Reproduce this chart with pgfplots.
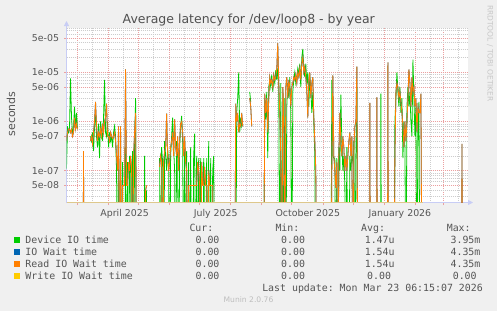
\documentclass[border=0pt]{standalone}
\usepackage{pgfplots}
\pgfplotsset{compat=1.18}
\usepackage{pgfplotstable}
\usepackage{fontspec}
\setmainfont{DejaVu Sans}
\setmonofont{DejaVu Sans Mono}
\usetikzlibrary{arrows.meta}

\definecolor{bgc}{HTML}{F0F0F0}
\definecolor{devio}{HTML}{00CC00}
\definecolor{iowait}{HTML}{0066B3}
\definecolor{readio}{HTML}{FF8000}
\definecolor{writeio}{HTML}{FFCC00}
\definecolor{writeline}{RGB}{222,200,140}
\definecolor{axblue}{RGB}{200,205,245}
\definecolor{mgrid}{RGB}{235,160,160}
\definecolor{mingrid}{RGB}{205,205,205}
\definecolor{txtc}{HTML}{555555}
\definecolor{titc}{HTML}{505050}

% day (days since 1 Jan 2025), Device IO time, Read IO wait time (seconds)
\pgfplotstableread{
day dev rd
48 1.1e-7 4e-7
49 8e-7 6e-7
50 6e-7 7e-7
51 7e-7 7e-7
52 7.5e-6 6e-7
53 1.2e-6 7e-7
54 6e-7 5e-7
55 7e-7 6e-7
56 2e-6 1.2e-6
57 7e-7 7e-7
58 1.5e-6 9e-7
59 7e-7 7e-7
60 nan nan
64.5 nan 1e-10
65 nan 2.5e-7
65.5 nan 1e-10
66 nan nan
72 5e-7 4e-7
73 4e-7 5e-7
74 6e-7 3.5e-7
75 2.5e-7 6e-7
76 8e-7 1e-6
77 1.5e-6 2.5e-6
78 5e-7 8e-7
79 3e-7 4e-7
80 9e-7 6e-7
81 1.8e-7 5e-7
82 1e-6 7e-7
83 6e-7 5e-7
84 4e-7 9e-7
85 1.2e-6 6e-7
86 7e-6 1e-6
87 6e-7 1.2e-6
88 5e-7 2.3e-6
89 1e-6 5e-7
90 3e-7 5e-7
91 6e-7 4e-7
92 4e-7 6e-7
93 5e-7 5e-7
94 3e-7 4.5e-7
95 6e-7 5e-7
96 8e-7 6e-7
97 5e-7 4e-7
98 1e-7 2e-7
99 1e-10 1e-7
100 2e-7 8e-7
101 1e-10 1e-10
102 2e-7 8e-7
103 1e-10 1e-10
104 1.5e-7 5e-8
105 1e-10 5e-8
106 1e-10 5e-8
107 3e-7 1.15e-5
108 1e-10 5e-8
109 1.5e-7 5e-8
110 1e-10 1.5e-7
111 2e-7 1e-7
112 1.5e-7 2e-7
113 1e-10 1.2e-7
114 2.5e-7 1e-10
115 1e-10 2e-7
116 3e-7 6e-7
117 3e-6 1.5e-6
118 1e-10 1e-10
119 nan nan
125.5 1e-10 nan
126 2e-7 1e-10
127 1e-10 4e-8
128 4e-8 5e-8
129 nan nan
141 1.8e-7 1.2e-7
142 1e-10 2e-7
143 3e-7 1.5e-7
144 1.5e-7 1e-10
145 1e-10 1.5e-7
146 4e-7 2.5e-7
147 2e-7 3e-7
148 1e-7 1.45e-6
149 3e-7 2e-7
150 1.5e-7 1e-7
151 1e-10 1.5e-7
152 2e-7 3e-7
153 5e-7 4e-7
154 1.2e-6 6e-7
155 3e-7 2e-7
156 1e-7 1.1e-6
157 1e-10 3e-7
158 4e-7 2e-7
159 2e-7 5e-7
160 1e-10 1e-7
161 3e-7 4e-7
162 8e-7 9e-7
163 1.3e-6 1e-6
164 4e-7 6e-7
165 1e-10 2e-7
166 3e-7 5e-7
167 1e-10 1.5e-7
168 2.5e-7 1e-7
169 1e-10 1e-10
170 1.5e-7 5e-8
171 1e-10 5e-8
172 3e-7 5e-8
173 1e-10 5e-8
174 1e-10 5e-8
175 2e-7 5e-8
176 5.7e-7 5e-8
177 1e-10 5e-8
178 2e-7 5e-8
179 1e-10 1.5e-7
180 1.8e-7 1e-7
181 1e-10 5e-8
182 1.8e-7 1e-10
183 1e-10 1.5e-7
184 1e-10 5e-8
185 1.8e-7 5e-8
186 5e-8 1.2e-7
187 1e-10 5e-8
188 1.8e-7 5e-8
189 1e-10 1e-10
190 4e-7 1e-7
191 1e-10 5e-8
192 1.8e-7 5e-8
193 1e-10 5e-8
194 1e-7 5e-8
195 2e-7 1e-10
196 1e-10 1e-10
197 nan nan
216 1e-10 1e-10
217 1e-10 2.3e-6
218 1.5e-6 1e-6
219 3e-6 1.5e-6
220 1e-5 6e-7
221 6e-7 9e-7
222 1.2e-6 8e-7
223 8e-7 1.5e-6
224 1e-6 8e-7
225 nan nan
231 4e-6 3e-6
232 2.5e-6 2e-6
233 nan 8e-7
234 nan nan
245 1e-10 1e-10
246 3e-6 3.7e-6
247 1.1e-6 1.5e-6
248 4e-6 3e-6
249 1.8e-7 6e-7
250 5e-6 3e-6
251 7e-6 8e-6
252 5e-6 6e-6
253 9e-6 7e-6
254 4e-6 5e-6
255 8e-6 9e-6
256 6e-6 7e-6
257 1.1e-5 8e-6
258 7e-6 1.2e-5
259 1.2e-5 3.9e-5
260 5e-6 6e-6
261 1e-10 1.5e-6
262 6e-6 2e-7
263 1e-10 1e-10
264 1e-6 5e-6
265 1e-10 2e-6
266 3e-6 1e-10
267 1e-10 5e-6
268 2e-6 8e-6
269 6e-6 3e-6
270 3e-6 7e-6
271 8e-6 5e-6
272 1.5e-6 2e-6
273 1e-10 5e-6
274 4e-6 6e-6
275 7e-6 8e-6
276 1e-5 7e-6
277 6e-6 9e-6
278 8e-6 6e-6
279 1.2e-5 1e-5
280 9e-6 8e-6
281 1.5e-5 1.2e-5
282 5e-6 7e-6
283 2e-5 1.5e-5
284 3e-5 2e-5
285 1.2e-5 1e-5
286 8e-6 1.3e-5
287 1.5e-5 8e-6
288 6e-6 4e-6
289 1e-5 1.2e-6
290 2e-6 7e-6
291 8e-6 1e-5
292 5e-6 3e-6
293 1.5e-6 6e-6
294 4e-6 8e-6
295 1e-6 1.2e-6
296 2e-7 4e-7
297 1e-10 1e-7
298 1e-10 1e-10
299 nan nan
312 1e-10 1e-10
313 7e-6 1e-7
314 2e-7 8.7e-6
315 1.8e-7 2e-7
316 1.8e-7 1e-7
317 1e-10 4.5e-8
318 1.8e-7 1.5e-7
319 1e-10 1e-10
320 3e-7 2e-7
321 1e-7 1.5e-6
322 3.5e-6 4e-7
323 4e-7 2e-7
324 1e-7 5e-7
325 2e-7 3e-7
326 5e-8 1e-7
327 1e-10 2e-7
328 3e-7 1e-7
329 1e-10 2e-7
330 1e-10 4e-7
331 2e-7 6e-7
332 1e-7 2e-7
333 2e-7 5e-7
334 1.5e-7 1e-10
335 4e-7 3e-7
336 1e-10 8e-7
337 2e-7 1e-6
338 5e-6 1.3e-5
339 1e-10 1e-10
340 nan nan
350.5 nan 1e-10
351 nan 2.4e-6
351.5 nan 1e-10
352 nan nan
357.5 nan 1e-10
358 nan 3.1e-6
358.5 nan 1e-10
359 nan nan
361.5 1e-10 nan
362 3.7e-6 nan
362.5 1e-10 nan
363 nan nan
368.5 nan 1e-10
369 nan 1.6e-5
369.5 nan 1e-10
370 nan nan
375 1e-10 1e-10
376 1e-6 2e-7
377 3e-6 4e-6
378 1e-5 6e-6
379 4e-6 5e-6
380 2e-6 3e-6
381 5e-6 4e-6
382 1.5e-6 2.5e-6
383 3e-6 1.5e-6
384 1.8e-7 8e-7
385 1e-6 3e-7
386 3e-7 1e-6
387 1e-10 4e-7
388 2e-6 1e-6
389 5e-6 3e-6
390 2e-6 1.15e-5
391 4e-6 6e-6
392 1e-6 2e-6
393 5e-7 8e-6
394 1.8e-5 4e-6
395 3e-6 5e-6
396 5e-7 2e-6
397 2e-6 3e-6
398 1e-10 6e-7
399 1e-6 2e-6
400 2.5e-6 1.5e-6
401 1e-10 1.5e-6
402 1e-10 3.7e-6
403 1e-10 1e-10
404 nan nan
442.5 nan 1e-10
443 nan 3.5e-7
443.5 nan 1e-10
}\latency

\begin{document}
\begin{tikzpicture}
\fill[bgc] (0,0) rectangle (497bp,311bp);
\path[use as bounding box] (0,0) rectangle (497bp,311bp);
\begin{axis}[
  at={(66.5bp,108.5bp)}, anchor=south west,
  width=401.5bp, height=174.8bp, scale only axis,
  xmin=48, xmax=449,
  ymode=log, ymin=2.26e-8, ymax=8.06e-5,
  axis background/.style={fill=white},
  axis lines=left,
  axis line style={draw=axblue, line width=0.8bp, -{Triangle[width=5bp,length=5bp]}},
  x axis line style={shorten >=-5bp},
  y axis line style={shorten >=-6.7bp},
  unbounded coords=jump,
  xtick={59,90,120,151,181,212,243,273,304,334,365,396,424},
  xticklabels={},
  minor xtick={74,105,135,166,196,227,258,288,319,349,380,411,439},
  extra x ticks={106,197,289,381},
  extra x tick labels={April 2025,July 2025,October 2025,January 2026},
  extra x tick style={grid=none, major tick length=0pt,
     tick label style={anchor=base, yshift=-13.5bp, inner sep=0pt}},
  ytick={5e-8,1e-7,5e-7,1e-6,5e-6,1e-5,5e-5},
  yticklabels={5e-08,1e-07,5e-07,1e-06,5e-06,1e-05,5e-05},
  minor ytick={3e-8,4e-8,6e-8,7e-8,8e-8,9e-8,2e-7,3e-7,4e-7,6e-7,7e-7,8e-7,9e-7,2e-6,3e-6,4e-6,6e-6,7e-6,8e-6,9e-6,2e-5,3e-5,4e-5,6e-5,7e-5,8e-5},
  xmajorgrids, xminorgrids, ymajorgrids, yminorgrids,
  major grid style={draw=mgrid, line width=0.6bp, dash pattern=on 1bp off 1bp},
  minor grid style={draw=mingrid, line width=0.45bp, dash pattern=on 1bp off 1bp},
  tick align=outside,
  major tick length=2.5bp, minor tick length=0pt,
  major tick style={draw=mgrid, line width=0.6bp},
  tick label style={font=\fontsize{9.4bp}{11bp}\selectfont, text=txtc},
  yticklabel style={anchor=east, inner sep=0pt, xshift=-4.7bp},
]
\addplot[devio, line width=0.8bp] table[x=day, y=dev] {\latency};
\addplot[iowait, line width=0.8bp] table[x=day, y=rd] {\latency};
\addplot[readio, line width=0.8bp] table[x=day, y=rd] {\latency};
\addplot[writeline, line width=1bp] coordinates {(48,2.3e-8) (404,2.3e-8)};
\end{axis}

\begin{scope}[x=1bp, y=-1bp, shift={(0pt,311bp)}]
  \node[anchor=base, inner sep=0pt, text=titc, font=\fontsize{12.5bp}{15bp}\selectfont] at (248.8,24) {Average latency for /dev/loop8 - by year};
  \node[anchor=base, rotate=90, inner sep=0pt, text=txtc, font=\fontsize{11bp}{13bp}\selectfont] at (15,114) {seconds};
  \node[anchor=west, rotate=-90, inner sep=0pt, text={rgb,255:red,200;green,200;blue,200}, font=\fontsize{7.5bp}{9bp}\selectfont] at (490,5) {RRDTOOL / TOBI OETIKER};
  \begin{scope}[every node/.style={inner sep=0pt, anchor=base west, text=txtc, font=\fontsize{9.9bp}{12bp}\ttfamily}]
    \node at (189.3,231.5) {Cur:};
    \node at (275.3,231.5) {Min:};
    \node at (361,231.5) {Avg:};
    \node at (446.6,231.5) {Max:};
    \fill[devio]  (14,237.3) rectangle (20,242.7);
    \fill[iowait] (14,249.3) rectangle (20,254.7);
    \fill[readio] (14,261.3) rectangle (20,266.7);
    \fill[writeio](14,273.3) rectangle (20,278.7);
    \node at (25.3,243.3) {Device IO time};
    \node at (25.3,255.3) {IO Wait time};
    \node at (25.3,267.3) {Read IO Wait time};
    \node at (25.3,279.3) {Write IO Wait time};
    \foreach \yy in {243.3,255.3,267.3,279.3} {
      \node at (195.4,\yy) {0.00};
      \node at (281,\yy) {0.00};
    }
    \node at (364.6,243.3) {1.47u};
    \node at (364.6,255.3) {1.54u};
    \node at (364.6,267.3) {1.54u};
    \node at (367,279.3) {0.00};
    \node at (450.4,243.3) {3.95m};
    \node at (450.4,255.3) {4.35m};
    \node at (450.4,267.3) {4.35m};
    \node at (452.6,279.3) {0.00};
    \node[anchor=base east] at (483,291.3) {Last update: Mon Mar 23 06:15:07 2026};
  \end{scope}
  \node[anchor=base, inner sep=0pt, text={rgb,255:red,190;green,190;blue,190}, font=\fontsize{7.6bp}{9bp}\selectfont] at (248.5,302.5) {Munin 2.0.76};
\end{scope}
\end{tikzpicture}
\end{document}
